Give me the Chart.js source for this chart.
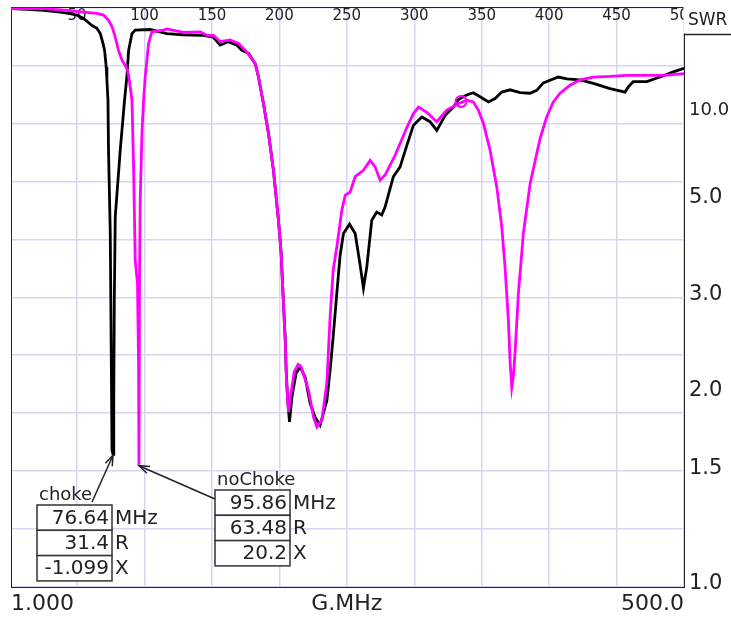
<!DOCTYPE html>
<html>
<head>
<meta charset="utf-8">
<script src="https://cdn.jsdelivr.net/npm/chart.js@4/dist/chart.umd.min.js"></script>
<style>
  html, body { margin: 0; padding: 0; background: #fff; }
  #wrap { width: 731px; height: 618px; position: relative; }
</style>
</head>
<body>
<div id="wrap"><canvas id="swrChart"></canvas></div>
<script>
// sweep frequency (MHz) and reflection coefficient magnitude |rho|
const chokeFreq = [1, 12.9, 25.2, 37.5, 43.7, 49.9, 54.8, 61.0, 64.7, 67.2,
    69.2, 70.4, 71.6, 72.1, 72.9, 73.3, 74.6, 75.3, 75.9, 76.64,
    77.2, 77.6, 78.3, 82.0, 85.2, 87.0, 88.2, 90.7, 93.1, 104.2,
    116.6, 128.7, 143.5, 150.9, 156.1, 162.0, 168.5, 172.2, 177.1, 182.1,
    184.5, 188.2, 191.9, 195.6, 199.3, 201.3, 203.0, 204.3, 205.0, 206.0,
    207.5, 209.3, 212.4, 215.4, 219.1, 222.8, 226.5, 230.2, 235.2, 237.6,
    240.1, 242.6, 245.0, 247.5, 252.0, 256.2, 259.9, 262.3, 264.8, 268.5,
    272.2, 275.9, 278.4, 284.5, 289.5, 294.5, 299.4, 305.6, 311.7, 316.7,
    322.9, 329.0, 332.7, 338.9, 343.8, 348.8, 355.0, 359.9, 364.9, 371.0,
    378.5, 385.9, 390.8, 395.7, 406.8, 413.1, 422.9, 432.8, 445.2, 456.3,
    458.7, 462.4, 472.4, 482.2, 492.1, 500];
const chokeRho = [0.998, 0.997, 0.995, 0.992, 0.990, 0.987, 0.981, 0.969, 0.964, 0.955,
    0.938, 0.926, 0.897, 0.875, 0.840, 0.754, 0.610, 0.409, 0.236, 0.229,
    0.322, 0.495, 0.639, 0.754, 0.840, 0.883, 0.926, 0.955, 0.961, 0.962,
    0.955, 0.953, 0.952, 0.949, 0.935, 0.941, 0.935, 0.926, 0.921, 0.903,
    0.880, 0.834, 0.783, 0.719, 0.633, 0.576, 0.490, 0.431, 0.374, 0.328,
    0.285, 0.328, 0.369, 0.380, 0.362, 0.317, 0.293, 0.279, 0.322, 0.374,
    0.438, 0.507, 0.572, 0.610, 0.626, 0.610, 0.555, 0.516, 0.552, 0.633,
    0.647, 0.642, 0.656, 0.708, 0.725, 0.762, 0.797, 0.811, 0.803, 0.788,
    0.814, 0.828, 0.841, 0.849, 0.853, 0.846, 0.837, 0.843, 0.854, 0.858,
    0.853, 0.852, 0.857, 0.870, 0.880, 0.877, 0.875, 0.869, 0.860, 0.854,
    0.863, 0.872, 0.872, 0.880, 0.889, 0.895];

const noChokeFreq = [1, 25.2, 42.5, 54.8, 64.7, 69.6, 73.3, 75.9, 78.3, 80.7,
    83.3, 85.7, 87.4, 88.7, 90.7, 91.9, 93.1, 94.8, 95.6, 95.86,
    96.3, 96.8, 98.1, 99.3, 100.5, 103.0, 105.5, 114.1, 116.6, 128.9,
    141.3, 146.3, 151.2, 156.1, 163.5, 169.7, 175.9, 182.1, 184.5, 188.2,
    191.9, 195.6, 199.3, 201.3, 203.0, 204.3, 205.3, 206.7, 208.4, 211.0,
    213.9, 216.1, 221.6, 225.3, 227.8, 231.5, 235.2, 237.6, 239.9, 242.6,
    246.3, 248.8, 252.5, 256.2, 262.3, 267.3, 271.0, 274.7, 278.4, 285.8,
    294.5, 299.4, 303.1, 309.3, 316.7, 324.1, 332.7, 338.9, 343.8, 347.5,
    351.3, 356.2, 361.2, 364.9, 367.3, 369.8, 371.0, 372.3, 373.5, 374.7,
    377.2, 380.9, 385.9, 393.3, 398.2, 403.1, 408.1, 415.5, 422.9, 432.8,
    445.2, 457.5, 472.4, 484.7, 500];
const noChokeRho = [0.998, 0.998, 0.995, 0.992, 0.990, 0.987, 0.978, 0.967, 0.949, 0.926,
    0.909, 0.900, 0.892, 0.875, 0.840, 0.725, 0.564, 0.524, 0.380, 0.211,
    0.535, 0.667, 0.783, 0.840, 0.880, 0.938, 0.958, 0.961, 0.963, 0.957,
    0.958, 0.952, 0.952, 0.941, 0.944, 0.938, 0.923, 0.903, 0.880, 0.834,
    0.783, 0.719, 0.633, 0.576, 0.490, 0.425, 0.357, 0.302, 0.331, 0.371,
    0.384, 0.380, 0.340, 0.293, 0.276, 0.288, 0.352, 0.466, 0.547, 0.587,
    0.650, 0.676, 0.682, 0.708, 0.719, 0.736, 0.725, 0.702, 0.711, 0.745,
    0.793, 0.817, 0.828, 0.819, 0.803, 0.823, 0.834, 0.840, 0.837, 0.823,
    0.800, 0.754, 0.690, 0.621, 0.552, 0.460, 0.391, 0.345, 0.365, 0.403,
    0.506, 0.610, 0.696, 0.774, 0.811, 0.837, 0.852, 0.866, 0.875, 0.880,
    0.881, 0.883, 0.883, 0.883, 0.886];

// small circle marker sitting on the noChoke trace
const circleFreq = [334.7];
const circleRho = [0.838];

// marker readouts
const markerNames = ['choke', 'noChoke'];
const markerFreq = [76.64, 95.86];
const markerRho = [0.229, 0.211];
const markerR = [31.4, 63.48];
const markerX = [-1.099, 20.2];

// axis ticks
const swrTicks = [1.0, 1.5, 2.0, 3.0, 5.0, 10.0];
const rhoGrid = [0, 0.1, 0.2, 0.3, 0.4, 0.5, 0.6, 0.7, 0.8, 0.9, 1.0];
const topTicks = [50, 100, 150, 200, 250, 300, 350, 400, 450, 500];
const bottomTicks = [1, 250, 500];
const bottomLabels = ['1.000', 'G.MHz', '500.0'];

const FONT = 'DejaVu Sans';
const INK = '#222';
const GRID = '#d6d6f3';

const toPoints = (fs, rs) => fs.map((f, i) => ({ x: f, y: rs[i] }));

// keep the axes from reserving room for label overhang
const noPad = s => { s.paddingTop = 0; s.paddingBottom = 0; s.paddingLeft = 0; s.paddingRight = 0; };

const overlayPlugin = {
    id: 'overlay',
    afterDraw(chart) {
        const { ctx, chartArea: a, scales } = chart;
        ctx.save();

        // SWR header box at the top right
        ctx.fillStyle = '#fff';
        ctx.fillRect(a.right - 0.5, 0, chart.width - a.right + 1, a.top + 26);
        ctx.fillStyle = INK;
        ctx.font = `17px "${FONT}"`;
        ctx.textAlign = 'left';
        ctx.textBaseline = 'middle';
        ctx.fillText('SWR', a.right + 4, a.top + 13);
        ctx.strokeStyle = INK;
        ctx.lineWidth = 1.5;
        ctx.beginPath();
        ctx.moveTo(a.right, a.top + 27);
        ctx.lineTo(chart.width, a.top + 27);
        ctx.stroke();

        // marker readout boxes with arrows
        const boxes = [
            { left: a.left + 26, top: a.bottom - 82, ax: a.left + 81, ay: a.bottom - 85 },
            { left: a.left + 204, top: a.bottom - 97, ax: a.left + 204, ay: a.bottom - 88 }
        ];
        const w = 75, rh = 25.3;
        markerNames.forEach((name, i) => {
            const b = boxes[i];
            const tx = scales.x.getPixelForValue(markerFreq[i]);
            const ty = scales.y.getPixelForValue(markerRho[i]);

            // arrow
            ctx.strokeStyle = INK;
            ctx.lineWidth = 1.5;
            ctx.beginPath();
            ctx.moveTo(b.ax, b.ay);
            ctx.lineTo(tx, ty + 1);
            ctx.stroke();
            const ang = Math.atan2(ty + 1 - b.ay, tx - b.ax);
            ctx.beginPath();
            ctx.moveTo(tx - 11 * Math.cos(ang - 0.35), ty + 1 - 11 * Math.sin(ang - 0.35));
            ctx.lineTo(tx, ty + 1);
            ctx.lineTo(tx - 11 * Math.cos(ang + 0.35), ty + 1 - 11 * Math.sin(ang + 0.35));
            ctx.stroke();

            // title
            ctx.fillStyle = INK;
            ctx.font = `18px "${FONT}"`;
            ctx.textAlign = 'left';
            ctx.textBaseline = 'alphabetic';
            ctx.fillText(name, b.left + 2, b.top - 5);

            // rows
            const vals = [markerFreq[i], markerR[i], markerX[i]];
            const units = ['MHz', 'R', 'X'];
            ctx.font = `20px "${FONT}"`;
            ctx.textBaseline = 'middle';
            vals.forEach((v, j) => {
                const y = b.top + j * rh;
                ctx.fillStyle = '#fff';
                ctx.fillRect(b.left, y, w, rh);
                ctx.strokeStyle = '#333';
                ctx.lineWidth = 1.5;
                ctx.strokeRect(b.left, y, w, rh);
                ctx.fillStyle = INK;
                ctx.textAlign = 'right';
                ctx.fillText(String(v), b.left + w - 3, y + rh / 2 + 1);
                ctx.textAlign = 'left';
                ctx.fillText(units[j], b.left + w + 3, y + rh / 2 + 1);
            });
        });
        ctx.restore();
    }
};

new Chart(document.getElementById('swrChart'), {
    type: 'line',
    data: {
        datasets: [
            {
                label: 'circle',
                data: toPoints(circleFreq, circleRho),
                showLine: false,
                pointRadius: 5.5,
                pointBorderWidth: 2,
                pointBorderColor: '#ff00ff',
                pointBackgroundColor: 'rgba(0,0,0,0)'
            },
            {
                label: 'noChoke',
                data: toPoints(noChokeFreq, noChokeRho),
                borderColor: '#ff00ff',
                borderWidth: 2.8,
                pointRadius: 0,
                tension: 0
            },
            {
                label: 'choke',
                data: toPoints(chokeFreq, chokeRho),
                borderColor: '#000',
                borderWidth: 2.8,
                pointRadius: 0,
                tension: 0
            }
        ]
    },
    options: {
        responsive: true,
        maintainAspectRatio: false,
        animation: false,
        layout: { padding: { left: 11, top: 7, right: 0, bottom: 0 } },
        plugins: {
            legend: { display: false },
            tooltip: { enabled: false }
        },
        scales: {
            x: {
                type: 'linear',
                position: 'bottom',
                min: 1,
                max: 500,
                afterBuildTicks: s => { s.ticks = bottomTicks.map(v => ({ value: v })); },
                afterFit: s => { s.height = 31; noPad(s); },
                grid: { display: false, drawTicks: false },
                border: { display: true, color: INK, width: 1 },
                ticks: {
                    autoSkip: false,
                    maxRotation: 0,
                    align: 'inner',
                    padding: 4,
                    color: INK,
                    font: { family: FONT, size: 22 },
                    callback: (v, i) => bottomLabels[i]
                }
            },
            x2: {
                type: 'linear',
                position: 'top',
                min: 1,
                max: 500,
                afterBuildTicks: s => { s.ticks = topTicks.map(v => ({ value: v })); },
                afterFit: s => { s.height = 0; noPad(s); },
                grid: { display: true, color: GRID, lineWidth: 1.5, drawTicks: false },
                border: { display: true, color: INK, width: 1 },
                ticks: {
                    autoSkip: false,
                    maxRotation: 0,
                    mirror: true,
                    padding: 0,
                    color: INK,
                    font: { family: FONT, size: 15 },
                    callback: v => String(v)
                }
            },
            y: {
                type: 'linear',
                position: 'left',
                min: 0,
                max: 1,
                afterBuildTicks: s => { s.ticks = rhoGrid.map(v => ({ value: v })); },
                afterFit: s => { s.width = 0; noPad(s); },
                grid: { display: true, color: GRID, lineWidth: 1.5, drawTicks: false },
                border: { display: true, color: INK, width: 1 },
                ticks: { display: false }
            },
            swr: {
                type: 'linear',
                position: 'right',
                min: 0,
                max: 1,
                afterBuildTicks: s => { s.ticks = swrTicks.map(v => ({ value: (v - 1) / (v + 1) })); },
                afterFit: s => { s.width = 47; noPad(s); },
                grid: { display: false, drawTicks: false },
                border: { display: true, color: INK, width: 1 },
                ticks: {
                    autoSkip: false,
                    padding: 5,
                    labelOffset: -3,
                    color: INK,
                    font: ctx => ({ family: FONT, size: ctx.index === swrTicks.length - 1 ? 18 : 21 }),
                    callback: (v, i) => swrTicks[i].toFixed(1)
                }
            }
        }
    },
    plugins: [overlayPlugin]
});
</script>
</body>
</html>
